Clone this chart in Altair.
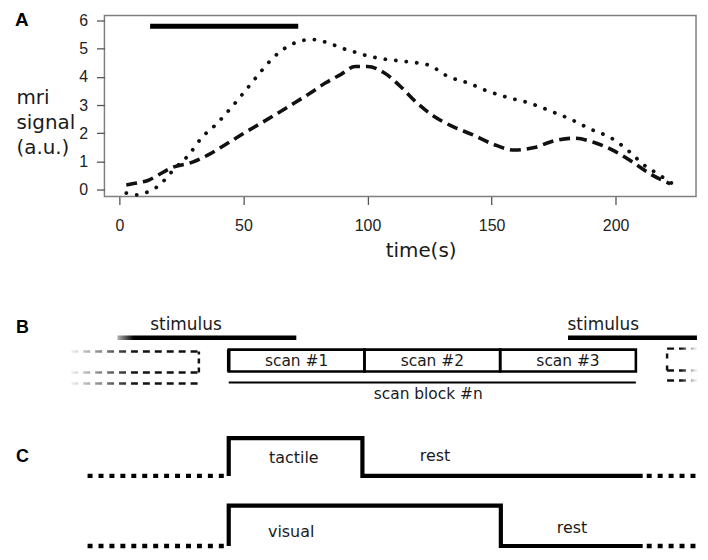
import altair as alt
import pandas as pd

# ---------------- Panel A : MRI signal time courses ----------------
dot_t = [2.8, 7, 11, 15, 18.7, 21.5, 28, 33, 39.4, 45, 50.8, 56.4, 62, 69.3, 77.6,
         85.9, 90, 94.6, 98.6, 107, 116, 124.6, 132.6, 140.6, 148.6, 157.3, 165.3,
         174, 182, 190, 198, 206, 211, 217, 223]
dot_signal = [-0.13, -0.19, -0.1, 0.08, 0.38, 0.67, 1.23, 1.82, 2.35, 2.9, 3.51, 4.12,
              4.68, 5.15, 5.33, 5.15, 5.01, 4.89, 4.78, 4.63, 4.54, 4.42, 4.01, 3.78,
              3.49, 3.25, 3.07, 2.78, 2.49, 2.14, 1.84, 1.31, 0.9, 0.55, 0.2]

dash_t = [2.8, 7, 11.5, 15.4, 21, 29.5, 35.8, 42.5, 50, 57, 64, 70.5, 77, 83, 89.5, 95,
          100, 107, 113.3, 120, 126.6, 134, 142, 150.6, 159.3, 167.3, 175.3, 183.4,
          191.4, 199.4, 206, 214, 222]
dash_signal = [0.16, 0.23, 0.32, 0.5, 0.77, 0.97, 1.23, 1.58, 1.99, 2.35, 2.72, 3.07,
               3.43, 3.78, 4.1, 4.37, 4.37, 4.13, 3.66, 3.07, 2.61, 2.25, 1.96, 1.61,
               1.4, 1.49, 1.73, 1.82, 1.67, 1.37, 1.02, 0.55, 0.2]

stim_bar_start = [12.4]
stim_bar_end = [72.1]
stim_bar_level = [5.8]

x_ticks = [0, 50, 100, 150, 200]
y_ticks = [0, 1, 2, 3, 4, 5, 6]

# ---------------- Panel B : scan protocol ----------------
b_stim_start = [-8.2, 25.0]
b_stim_end = [4.98, 34.5]
b_stim_level = [22.2, 22.2]
b_stim_label_t = [-3.15, 27.6]
b_stim_label_level = [23.5, 23.5]

scan_start = [0, 10, 20]
scan_end = [10, 20, 30]
scan_labels = ["scan #1", "scan #2", "scan #3"]
scan_top = 21.0
scan_bottom = 18.8
scan_label_level = 19.85

block_start = [0]
block_end = [30]
block_level = [17.7]
block_label = ["scan block #n"]
block_label_t = [14.7]
block_label_level = [16.5]

# previous / next (faded) scan blocks drawn dashed
prev_h_start = [-11.6, -11.6, -11.6]
prev_h_end = [-2.2, -2.2, -2.2]
prev_h_level = [20.8, 18.7, 17.6]
prev_v_t = [-2.2]
prev_v_low = [18.7]
prev_v_high = [20.8]

next_h_start = [32.3, 32.3, 32.3]
next_h_end = [34.5, 34.5, 34.5]
next_h_level = [21.1, 18.9, 17.9]
next_v_t = [32.3]
next_v_low = [18.9]
next_v_high = [21.1]

# ---------------- Panel C : block designs ----------------
tactile_t = [0, 0, 9.85, 9.85, 30.5]
tactile_level = [8.3, 12.1, 12.1, 8.3, 8.3]
visual_t = [0, 0, 20.05, 20.05, 30.5]
visual_level = [1.25, 5.3, 5.3, 1.25, 1.25]

c_dot_start = [-10.4, 30.8, -10.4, 30.8]
c_dot_end = [0, 34.5, 0, 34.5]
c_dot_level = [8.3, 8.3, 1.25, 1.25]

c_labels = ["tactile", "rest", "visual", "rest"]
c_label_t = [4.8, 15.2, 4.6, 25.3]
c_label_level = [10.1, 10.3, 2.7, 3.1]

# fade overlays (white -> transparent)
fade_start = [-8.7, -11.9]
fade_end = [-7.0, -6.9]
fade_low = [21.8, 17.2]
fade_high = [22.6, 21.2]
fade_r_start = [33.3]
fade_r_end = [34.5]
fade_r_low = [17.3]
fade_r_high = [21.6]

# ======================================================================
INK = "#111111"
SANS = "DejaVu Sans"
ARIAL = "Liberation Sans"

xA = alt.X("t:Q", scale=alt.Scale(domain=[-6, 232.4], nice=False, zero=False),
           axis=alt.Axis(values=x_ticks, title="time(s)", grid=False, domain=False,
                         tickSize=8, tickColor="#555555", tickWidth=1.3,
                         labelFont=ARIAL, labelFontSize=16, labelColor="#222222",
                         labelPadding=13, titleFont=SANS, titleFontSize=20,
                         titleFontWeight="normal", titleColor="#1a1a1a",
                         titleX=318, titleY=60, titleBaseline="alphabetic",
                         titleAlign="center"))
yA = alt.Y("signal:Q", scale=alt.Scale(domain=[-0.25, 6.18], nice=False, zero=False),
           axis=alt.Axis(values=y_ticks, title=["mri", "signal", "(a.u.)"], grid=False,
                         domain=False, tickSize=8, tickColor="#555555", tickWidth=1.3,
                         labelFont=ARIAL, labelFontSize=16, labelColor="#222222",
                         labelPadding=9, titleFont=SANS, titleFontSize=20,
                         titleFontWeight="normal", titleColor="#1a1a1a",
                         titleAngle=0, titleAlign="left", titleBaseline="alphabetic",
                         titleX=-89, titleY=88, titleLineHeight=25.5))

dot_df = pd.DataFrame({"t": dot_t, "signal": dot_signal})
dash_df = pd.DataFrame({"t": dash_t, "signal": dash_signal})
bar_df = pd.DataFrame({"t": stim_bar_start, "t_end": stim_bar_end, "signal": stim_bar_level})

dotted = alt.Chart(dot_df).mark_line(
    color=INK, strokeWidth=3.8, strokeCap="round", strokeDash=[0.1, 10.5],
    interpolate="monotone").encode(x=xA, y=yA)
dashed = alt.Chart(dash_df).mark_line(
    color=INK, strokeWidth=3.6, strokeDash=[11, 6], interpolate="monotone"
).encode(x=xA, y=yA)
bar = alt.Chart(bar_df).mark_rule(color="black", strokeWidth=5).encode(
    x=xA, x2="t_end:Q", y=yA)
labA = alt.Chart(pd.DataFrame({"p": ["A"]})).mark_text(
    font=ARIAL, fontSize=19, fontWeight="bold", align="left", baseline="alphabetic",
    color="black").encode(text="p:N", x=alt.value(-90), y=alt.value(11))

panelA = alt.layer(dotted, dashed, bar, labA).properties(
    width=595, height=182,
    view=alt.ViewBackground(stroke="#808080", strokeWidth=1.5))

# ---------------- Panel B + C chart ----------------
xs = alt.Scale(domain=[-9.1575, 34.432], nice=False, zero=False)
ys = alt.Scale(domain=[1.0, 25], nice=False, zero=False)
xB = alt.X("t:Q", scale=xs, axis=None)
yB = alt.Y("lvl:Q", scale=ys, axis=None)

stim_df = pd.DataFrame({"t": b_stim_start, "t_end": b_stim_end, "lvl": b_stim_level})
stim_lab_df = pd.DataFrame({"t": b_stim_label_t, "lvl": b_stim_label_level,
                            "txt": ["stimulus", "stimulus"]})
scan_df = pd.DataFrame({"t": scan_start, "t_end": scan_end,
                        "lvl": [scan_bottom] * 3, "lvl_top": [scan_top] * 3,
                        "txt": scan_labels,
                        "mid": [(a + b) / 2 for a, b in zip(scan_start, scan_end)],
                        "lab_lvl": [scan_label_level] * 3})
block_df = pd.DataFrame({"t": block_start, "t_end": block_end, "lvl": block_level})
block_lab_df = pd.DataFrame({"t": block_label_t, "lvl": block_label_level, "txt": block_label})

prev_h_df = pd.DataFrame({"t": prev_h_start, "t_end": prev_h_end, "lvl": prev_h_level})
prev_v_df = pd.DataFrame({"t": prev_v_t, "lvl": prev_v_low, "lvl_top": prev_v_high})
next_h_df = pd.DataFrame({"t": next_h_start, "t_end": next_h_end, "lvl": next_h_level})
next_v_df = pd.DataFrame({"t": next_v_t, "lvl": next_v_low, "lvl_top": next_v_high})

stim_rule = alt.Chart(stim_df).mark_rule(color="black", strokeWidth=4.5).encode(
    x=xB, x2="t_end:Q", y=yB)
stim_text = alt.Chart(stim_lab_df).mark_text(
    font=SANS, fontSize=17, color="#1a1a1a", baseline="middle").encode(
    x=xB, y=yB, text="txt:N")
scan_rect = alt.Chart(scan_df).mark_rect(
    fillOpacity=0, stroke="black", strokeWidth=2.6).encode(
    x=xB, x2="t_end:Q", y=yB, y2="lvl_top:Q")
scan_edge = alt.Chart(scan_df.head(1)).mark_rule(color="black", strokeWidth=3.6).encode(
    x=xB, y=yB, y2="lvl_top:Q")
scan_text = alt.Chart(scan_df).mark_text(
    font=SANS, fontSize=15.5, color="#1a1a1a", baseline="middle").encode(
    x=alt.X("mid:Q", scale=xs, axis=None), y=alt.Y("lab_lvl:Q", scale=ys, axis=None),
    text="txt:N")
block_rule = alt.Chart(block_df).mark_rule(color="black", strokeWidth=2).encode(
    x=xB, x2="t_end:Q", y=yB)
block_text = alt.Chart(block_lab_df).mark_text(
    font=SANS, fontSize=15.5, color="#1a1a1a", baseline="middle").encode(
    x=xB, y=yB, text="txt:N")

dash_style = dict(color="#111111", strokeWidth=2.5, strokeDash=[7, 5])
prev_h = alt.Chart(prev_h_df).mark_rule(**dash_style).encode(x=xB, x2="t_end:Q", y=yB)
prev_v = alt.Chart(prev_v_df).mark_rule(color="#111111", strokeWidth=2.5,
                                        strokeDash=[5, 4]).encode(x=xB, y=yB, y2="lvl_top:Q")
next_h = alt.Chart(next_h_df).mark_rule(**dash_style).encode(x=xB, x2="t_end:Q", y=yB)
next_v = alt.Chart(next_v_df).mark_rule(color="#111111", strokeWidth=2.5,
                                        strokeDash=[5, 7]).encode(x=xB, y=yB, y2="lvl_top:Q")

fade_l_df = pd.DataFrame({"t": fade_start, "t_end": fade_end, "lvl": fade_low, "lvl_top": fade_high})
fade_r_df = pd.DataFrame({"t": fade_r_start, "t_end": fade_r_end, "lvl": fade_r_low, "lvl_top": fade_r_high})
fade_l = alt.Chart(fade_l_df).mark_rect(
    fill=alt.Gradient(gradient="linear", x1=0, x2=1, y1=0, y2=0,
                      stops=[alt.GradientStop(color="white", offset=0),
                             alt.GradientStop(color="rgba(255,255,255,0)", offset=1)])
).encode(x=xB, x2="t_end:Q", y=yB, y2="lvl_top:Q")
fade_r = alt.Chart(fade_r_df).mark_rect(
    fill=alt.Gradient(gradient="linear", x1=0, x2=1, y1=0, y2=0,
                      stops=[alt.GradientStop(color="rgba(255,255,255,0)", offset=0),
                             alt.GradientStop(color="white", offset=1)])
).encode(x=xB, x2="t_end:Q", y=yB, y2="lvl_top:Q")

step_df = pd.concat([
    pd.DataFrame({"t": tactile_t, "lvl": tactile_level, "row": "tactile",
                  "o": list(range(len(tactile_t)))}),
    pd.DataFrame({"t": visual_t, "lvl": visual_level, "row": "visual",
                  "o": list(range(len(visual_t)))}),
])
steps = alt.Chart(step_df).mark_line(color="black", strokeWidth=4.2,
                                     strokeJoin="miter").encode(
    x=xB, y=yB, detail="row:N", order="o:Q")
c_dots_df = pd.DataFrame({"t": c_dot_start, "t_end": c_dot_end, "lvl": c_dot_level})
c_dots = alt.Chart(c_dots_df).mark_rule(color="black", strokeWidth=4.5,
                                        strokeDash=[5, 6]).encode(x=xB, x2="t_end:Q", y=yB)
c_text_df = pd.DataFrame({"t": c_label_t, "lvl": c_label_level, "txt": c_labels})
c_text = alt.Chart(c_text_df).mark_text(
    font=SANS, fontSize=16, color="#1a1a1a", baseline="middle").encode(
    x=xB, y=yB, text="txt:N")

letters_df = pd.DataFrame({"p": ["B", "C"], "px": [-89, -89], "py": [23, 153]})
letters = alt.Chart(letters_df).mark_text(
    font=ARIAL, fontSize=18, fontWeight="bold", align="left", baseline="alphabetic",
    color="black").encode(text="p:N",
                          x=alt.X("px:Q", scale=None, axis=None),
                          y=alt.Y("py:Q", scale=None, axis=None))

panelBC = alt.layer(
    prev_h, prev_v, next_h, next_v, stim_rule, fade_l, fade_r, stim_text,
    scan_rect, scan_edge, scan_text, block_rule, block_text,
    c_dots, steps, c_text, letters
).properties(width=595, height=240,
             view=alt.ViewBackground(stroke="transparent"))

chart = alt.vconcat(panelA, panelBC, spacing=114, bounds="flush").properties(
    padding={"left": 6, "top": 1, "right": 0, "bottom": 0},
    background="white")

chart.save("out.html", embed_options={"renderer": "svg", "actions": False})
